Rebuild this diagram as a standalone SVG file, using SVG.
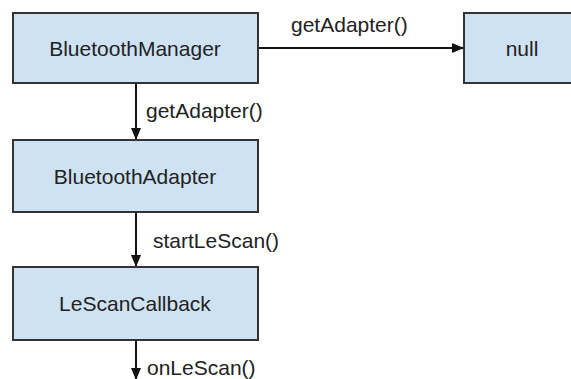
<svg xmlns="http://www.w3.org/2000/svg" width="571" height="379" viewBox="0 0 571 379">
  <style>
    .box { fill: #cfe2f3; stroke: #333333; stroke-width: 2; }
    .label { font-family: "Liberation Sans", Arial, sans-serif; font-size: 21px; fill: #222222; }
    .mid { text-anchor: middle; }
    .edge { stroke: #111111; stroke-width: 2; fill: none; marker-end: url(#arrow); }
  </style>
  <defs>
    <marker id="arrow" markerWidth="12" markerHeight="10" refX="11" refY="5" orient="auto" markerUnits="userSpaceOnUse">
      <path d="M0,0 L12,5 L0,10 Z" fill="#111111"/>
    </marker>
  </defs>
  <rect width="571" height="379" fill="#ffffff"/>

  <g id="connectors">
    <line class="edge" x1="258" y1="48" x2="463" y2="48"/>
    <text class="label" x="291" y="32">getAdapter()</text>
    <line class="edge" x1="136" y1="83" x2="136" y2="139"/>
    <text class="label" x="146" y="118">getAdapter()</text>
    <line class="edge" x1="136" y1="212" x2="136" y2="266"/>
    <text class="label" x="153" y="248">startLeScan()</text>
    <line class="edge" x1="136" y1="340" x2="136" y2="379"/>
    <text class="label" x="147" y="375">onLeScan()</text>
  </g>

  <g id="bluetooth-manager">
    <rect class="box" x="13" y="13" width="245" height="70"/>
    <text class="label mid" x="135" y="56">BluetoothManager</text>
  </g>
  <g id="null">
    <rect class="box" x="464" y="13" width="120" height="70"/>
    <text class="label mid" x="522" y="56">null</text>
  </g>
  <g id="bluetooth-adapter">
    <rect class="box" x="13" y="140" width="245" height="72"/>
    <text class="label mid" x="135" y="184">BluetoothAdapter</text>
  </g>
  <g id="le-scan-callback">
    <rect class="box" x="13" y="267" width="245" height="73"/>
    <text class="label mid" x="135" y="311">LeScanCallback</text>
  </g>
</svg>
